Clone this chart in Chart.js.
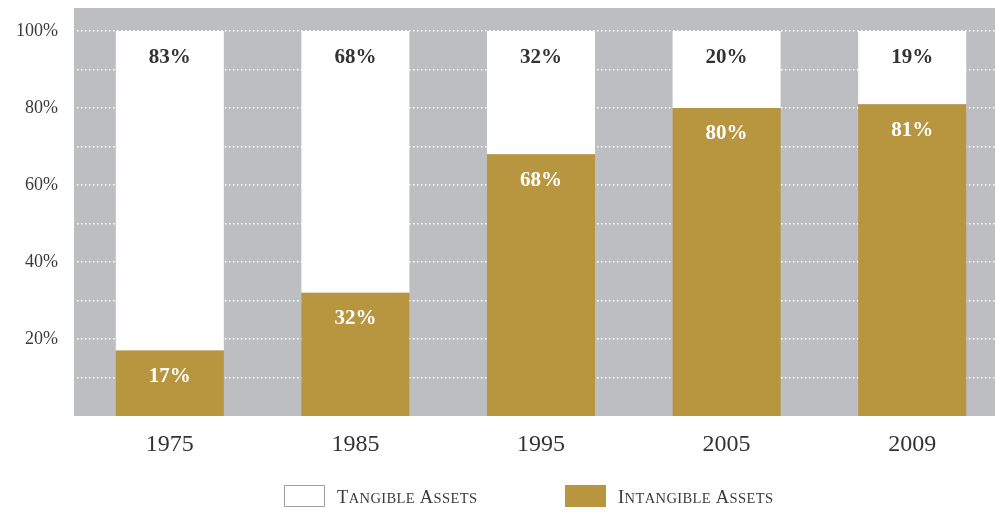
<!DOCTYPE html>
<html><head><meta charset="utf-8">
<script src="https://cdn.jsdelivr.net/npm/chart.js"></script>
<style>html,body{margin:0;padding:0;background:#fff;overflow:hidden}#wrap{width:1010px;height:512px;position:relative}</style>
</head><body><div id="wrap"><canvas id="c"></canvas></div>
<script>
const years = ['1975', '1985', '1995', '2005', '2009'];
const intangible = [17, 32, 68, 80, 81];
const tangible = [83, 68, 32, 20, 19];
const gridValues = [10, 20, 30, 40, 50, 60, 70, 80, 90, 100];
const labeledValues = [20, 40, 60, 80, 100];
const seriesNames = ['Tangible Assets', 'Intangible Assets'];

const GRAY = '#bdbec1', GOLD = '#b8953f', TEXT = '#3a3a3a';
const SERIF = "'Liberation Serif', 'DejaVu Serif', serif";

const bgPlugin = {
  id: 'bg',
  beforeDraw(chart) {
    const {ctx, chartArea: a} = chart;
    ctx.save();
    ctx.fillStyle = GRAY;
    ctx.fillRect(a.left - 3, a.top, chart.width - a.left + 3, a.bottom - a.top);
    ctx.restore();
  }
};

const labelPlugin = {
  id: 'vals',
  afterDatasetsDraw(chart) {
    const ctx = chart.ctx;
    ctx.save();
    ctx.font = 'bold 21px ' + SERIF;
    ctx.textAlign = 'center';
    ctx.textBaseline = 'middle';
    chart.data.datasets.forEach((ds, i) => {
      const meta = chart.getDatasetMeta(i);
      meta.data.forEach((bar, j) => {
        ctx.fillStyle = ds.labelColor;
        ctx.fillText(ds.data[j] + '%', bar.x, bar.y + 26);
      });
    });
    ctx.restore();
  }
};

function smallCaps(ctx, text, x, y, big, small, spacing) {
  const words = text.split(' ');
  const draw = (s, size) => {
    ctx.font = size + 'px ' + SERIF;
    for (const ch of s) {
      ctx.fillText(ch, x, y);
      x += ctx.measureText(ch).width + spacing;
    }
  };
  words.forEach((w, wi) => {
    draw(w[0].toUpperCase(), big);
    draw(w.slice(1).toUpperCase(), small);
    if (wi < words.length - 1) { ctx.font = big + 'px ' + SERIF; x += ctx.measureText(' ').width; }
  });
}

const legendPlugin = {
  id: 'leg',
  afterDraw(chart) {
    const ctx = chart.ctx;
    ctx.save();
    const items = [
      {name: seriesNames[0], fill: '#ffffff', stroke: '#a0a0a0', bx: 284, tx: 337},
      {name: seriesNames[1], fill: GOLD, stroke: GOLD, bx: 565, tx: 618}
    ];
    items.forEach(it => {
      ctx.fillStyle = it.fill;
      ctx.fillRect(it.bx, 485, 41, 22);
      ctx.strokeStyle = it.stroke;
      ctx.lineWidth = 1;
      ctx.strokeRect(it.bx + 0.5, 485.5, 40, 21);
      ctx.fillStyle = TEXT;
      ctx.textBaseline = 'alphabetic';
      ctx.textAlign = 'left';
      smallCaps(ctx, it.name, it.tx, 503, 18.5, 14.5, 0.4);
    });
    ctx.restore();
  }
};

new Chart(document.getElementById('c'), {
  type: 'bar',
  data: {
    labels: years,
    datasets: [
      {label: seriesNames[1], data: intangible, backgroundColor: GOLD, labelColor: '#ffffff',
       barPercentage: 0.582, categoryPercentage: 1},
      {label: seriesNames[0], data: tangible, backgroundColor: '#ffffff', labelColor: '#333333',
       barPercentage: 0.582, categoryPercentage: 1}
    ]
  },
  plugins: [bgPlugin, labelPlugin, legendPlugin],
  options: {
    responsive: true,
    maintainAspectRatio: false,
    animation: false,
    layout: {padding: {left: 0, right: 5, top: 8, bottom: 0}},
    plugins: {legend: {display: false}, tooltip: {enabled: false}},
    scales: {
      x: {
        stacked: true,
        grid: {display: false, drawTicks: false},
        border: {display: false},
        ticks: {color: '#333', font: {family: SERIF, size: 24}, padding: 14, maxRotation: 0},
        afterFit(s) { s.height = 96; s.paddingLeft = 0; s.paddingRight = 0; }
      },
      y: {
        stacked: true,
        min: 0, max: 106,
        grid: {color: '#ffffff', lineWidth: 1.5, drawTicks: false},
        border: {display: false, dash: [1.5, 2.5]},
        afterBuildTicks(s) { s.ticks = gridValues.map(v => ({value: v})); },
        ticks: {
          color: TEXT, font: {family: SERIF, size: 18}, padding: 19,
          callback: v => labeledValues.includes(v) ? v + '%' : ''
        },
        afterFit(s) { s.width = 77; s.paddingTop = 0; s.paddingBottom = 0; }
      }
    }
  }
});
</script></body></html>
